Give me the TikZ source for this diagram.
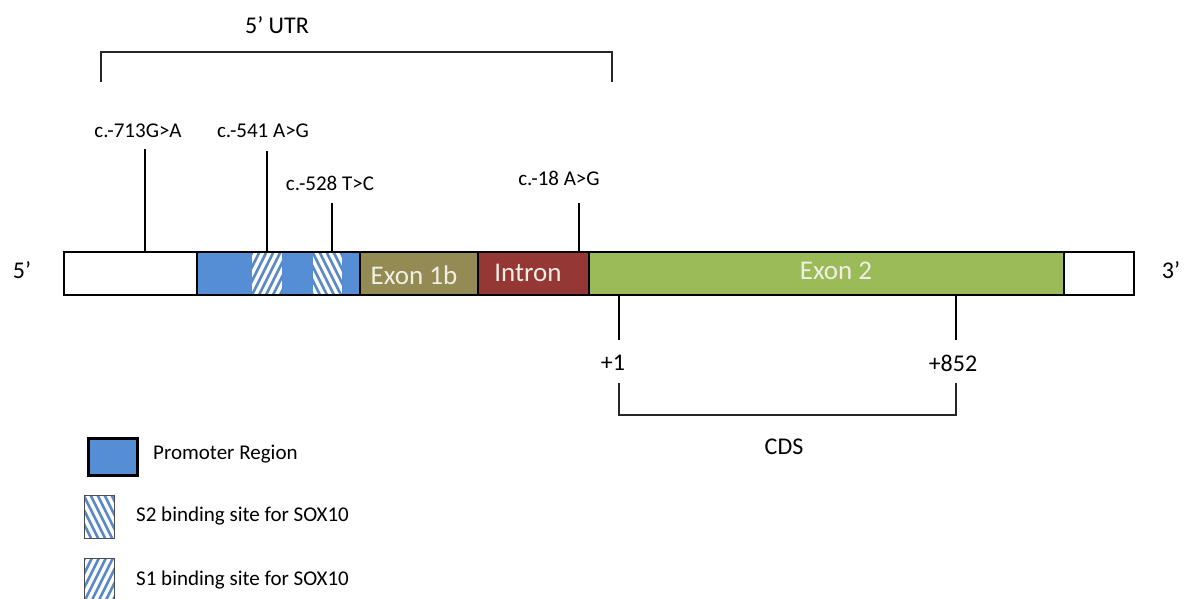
\documentclass[tikz,border=0pt]{standalone}
\usepackage{fontspec}
\setmainfont{Carlito}
\definecolor{promblue}{HTML}{558ED5}
\definecolor{hatchblue}{HTML}{5A88C4}
\definecolor{olivex}{HTML}{948A54}
\definecolor{intronred}{HTML}{953735}
\definecolor{exongreen}{HTML}{9BBB59}
\definecolor{creamtxt}{HTML}{F0EFE4}
\newcommand{\myhatch}[5]{%
  \begin{scope}
    \clip (#1,#2) rectangle (#3,#4);
    \fill[white] (#1,#2) rectangle (#3,#4);
    \foreach \k in {-70,-63,...,70}{
      \draw[hatchblue, line width=2.6pt] (#1+\k,#4) -- ++(#5*30,-60);
    }
  \end{scope}}
\tikzset{
  seg/.style={inner sep=0pt, outer sep=0pt, minimum height=43pt, anchor=north west, draw=black, line width=1.2pt},
  segtxt/.style={text=creamtxt, font=\fontsize{27}{30}\selectfont},
  mut/.style={font=\fontsize{21}{24}\selectfont, inner sep=0pt},
  big/.style={font=\fontsize{24}{27}\selectfont, inner sep=0pt},
  leg/.style={font=\fontsize{21}{24}\selectfont, inner sep=0pt, anchor=west},
  tick/.style={line width=2pt},
  bracket/.style={line width=1.6pt, draw=black!85}
}
\begin{document}
\begin{tikzpicture}[x=1pt,y=-1pt]
\useasboundingbox (0,0) rectangle (1194,598);
% bar segments
\node[seg, fill=white, minimum width=133pt] (w1) at (64,252) {};
\node[seg, fill=promblue, minimum width=163pt] (prom) at (197,252) {};
\myhatch{252}{252}{282}{295}{1}
\myhatch{313}{252}{342}{295}{-1}
\node[seg, fill=olivex, minimum width=118pt] (ex1b) at (360,252) {};
\node[seg, fill=intronred, minimum width=111pt] (intr) at (478,252) {};
\node[seg, fill=exongreen, minimum width=475pt] (ex2) at (589,252) {};
\node[seg, fill=white, minimum width=70pt] (w2) at (1064,252) {};
\node[inner sep=0pt, outer sep=0pt, minimum width=1070pt, minimum height=43pt, anchor=north west, draw=black, line width=2.5pt] (bar) at (64,252) {};
\draw[line width=2pt] (197,252) -- (197,295) (360,252) -- (360,295) (478,252) -- (478,295) (589,252) -- (589,295) (1064,252) -- (1064,295);
% segment texts
\node[segtxt] (t1b) at (414,275) {Exon 1b};
\node[segtxt] (tin) at (528,273) {Intron};
\node[segtxt] (tex2) at (836,271) {Exon 2};
% ends
\node[big] (p5) at (22,270) {5’};
\node[big] (p3) at (1171,270) {3’};
% 5' UTR bracket
\node[big] (utr) at (277,25) {5’ UTR};
\coordinate (ua) at (101,82);
\coordinate (ub) at (612,82);
\draw[bracket] (ua) -- (101,52) -- (612,52) -- (ub);
% mutations
\node[mut] (m713) at (138,131) {c.-713G>A};
\node[mut] (m541) at (263,131) {c.-541 A>G};
\node[mut] (m528) at (330,183) {c.-528 T>C};
\node[mut] (m18) at (559,178) {c.-18 A>G};
\coordinate (k713) at (145,149);
\coordinate (k541) at (267,151);
\coordinate (k528) at (332,203);
\coordinate (k18) at (579,203);
\draw[tick] (k713) -- (k713 |- bar.north);
\draw[tick] (k541) -- (k541 |- bar.north);
\draw[tick] (k528) -- (k528 |- bar.north);
\draw[tick] (k18) -- (k18 |- bar.north);
% CDS
\coordinate (c1) at (619,340);
\coordinate (c2) at (956,340);
\draw[tick] (c1 |- bar.south) -- (c1);
\draw[tick] (c2 |- bar.south) -- (c2);
\node[big] (n1) at (613,363) {+1};
\node[big] (n852) at (953,363) {+852};
\coordinate (ca) at (619,383);
\coordinate (cb) at (956,383);
\draw[bracket] (ca) -- (619,415) -- (956,415) -- (cb);
\node[big] (cds) at (784,447) {CDS};
% legend
\node[draw=black, line width=2.5pt, fill=promblue, inner sep=0pt, minimum width=49pt, minimum height=37pt, anchor=north west] (lp) at (87,437) {};
\node[leg] (lpt) at (153,454) {Promoter Region};
\myhatch{84}{495}{114}{538}{-1}
\draw[line width=0.8pt, draw=black!70] (84,495) rectangle (114,538);
\node[leg] (ls2) at (136,516) {S2 binding site for SOX10};
\myhatch{84}{558}{114}{602}{1}
\draw[line width=0.8pt, draw=black!70] (84,558) rectangle (114,602);
\node[leg] (ls1) at (136,580) {S1 binding site for SOX10};
\end{tikzpicture}
\end{document}
